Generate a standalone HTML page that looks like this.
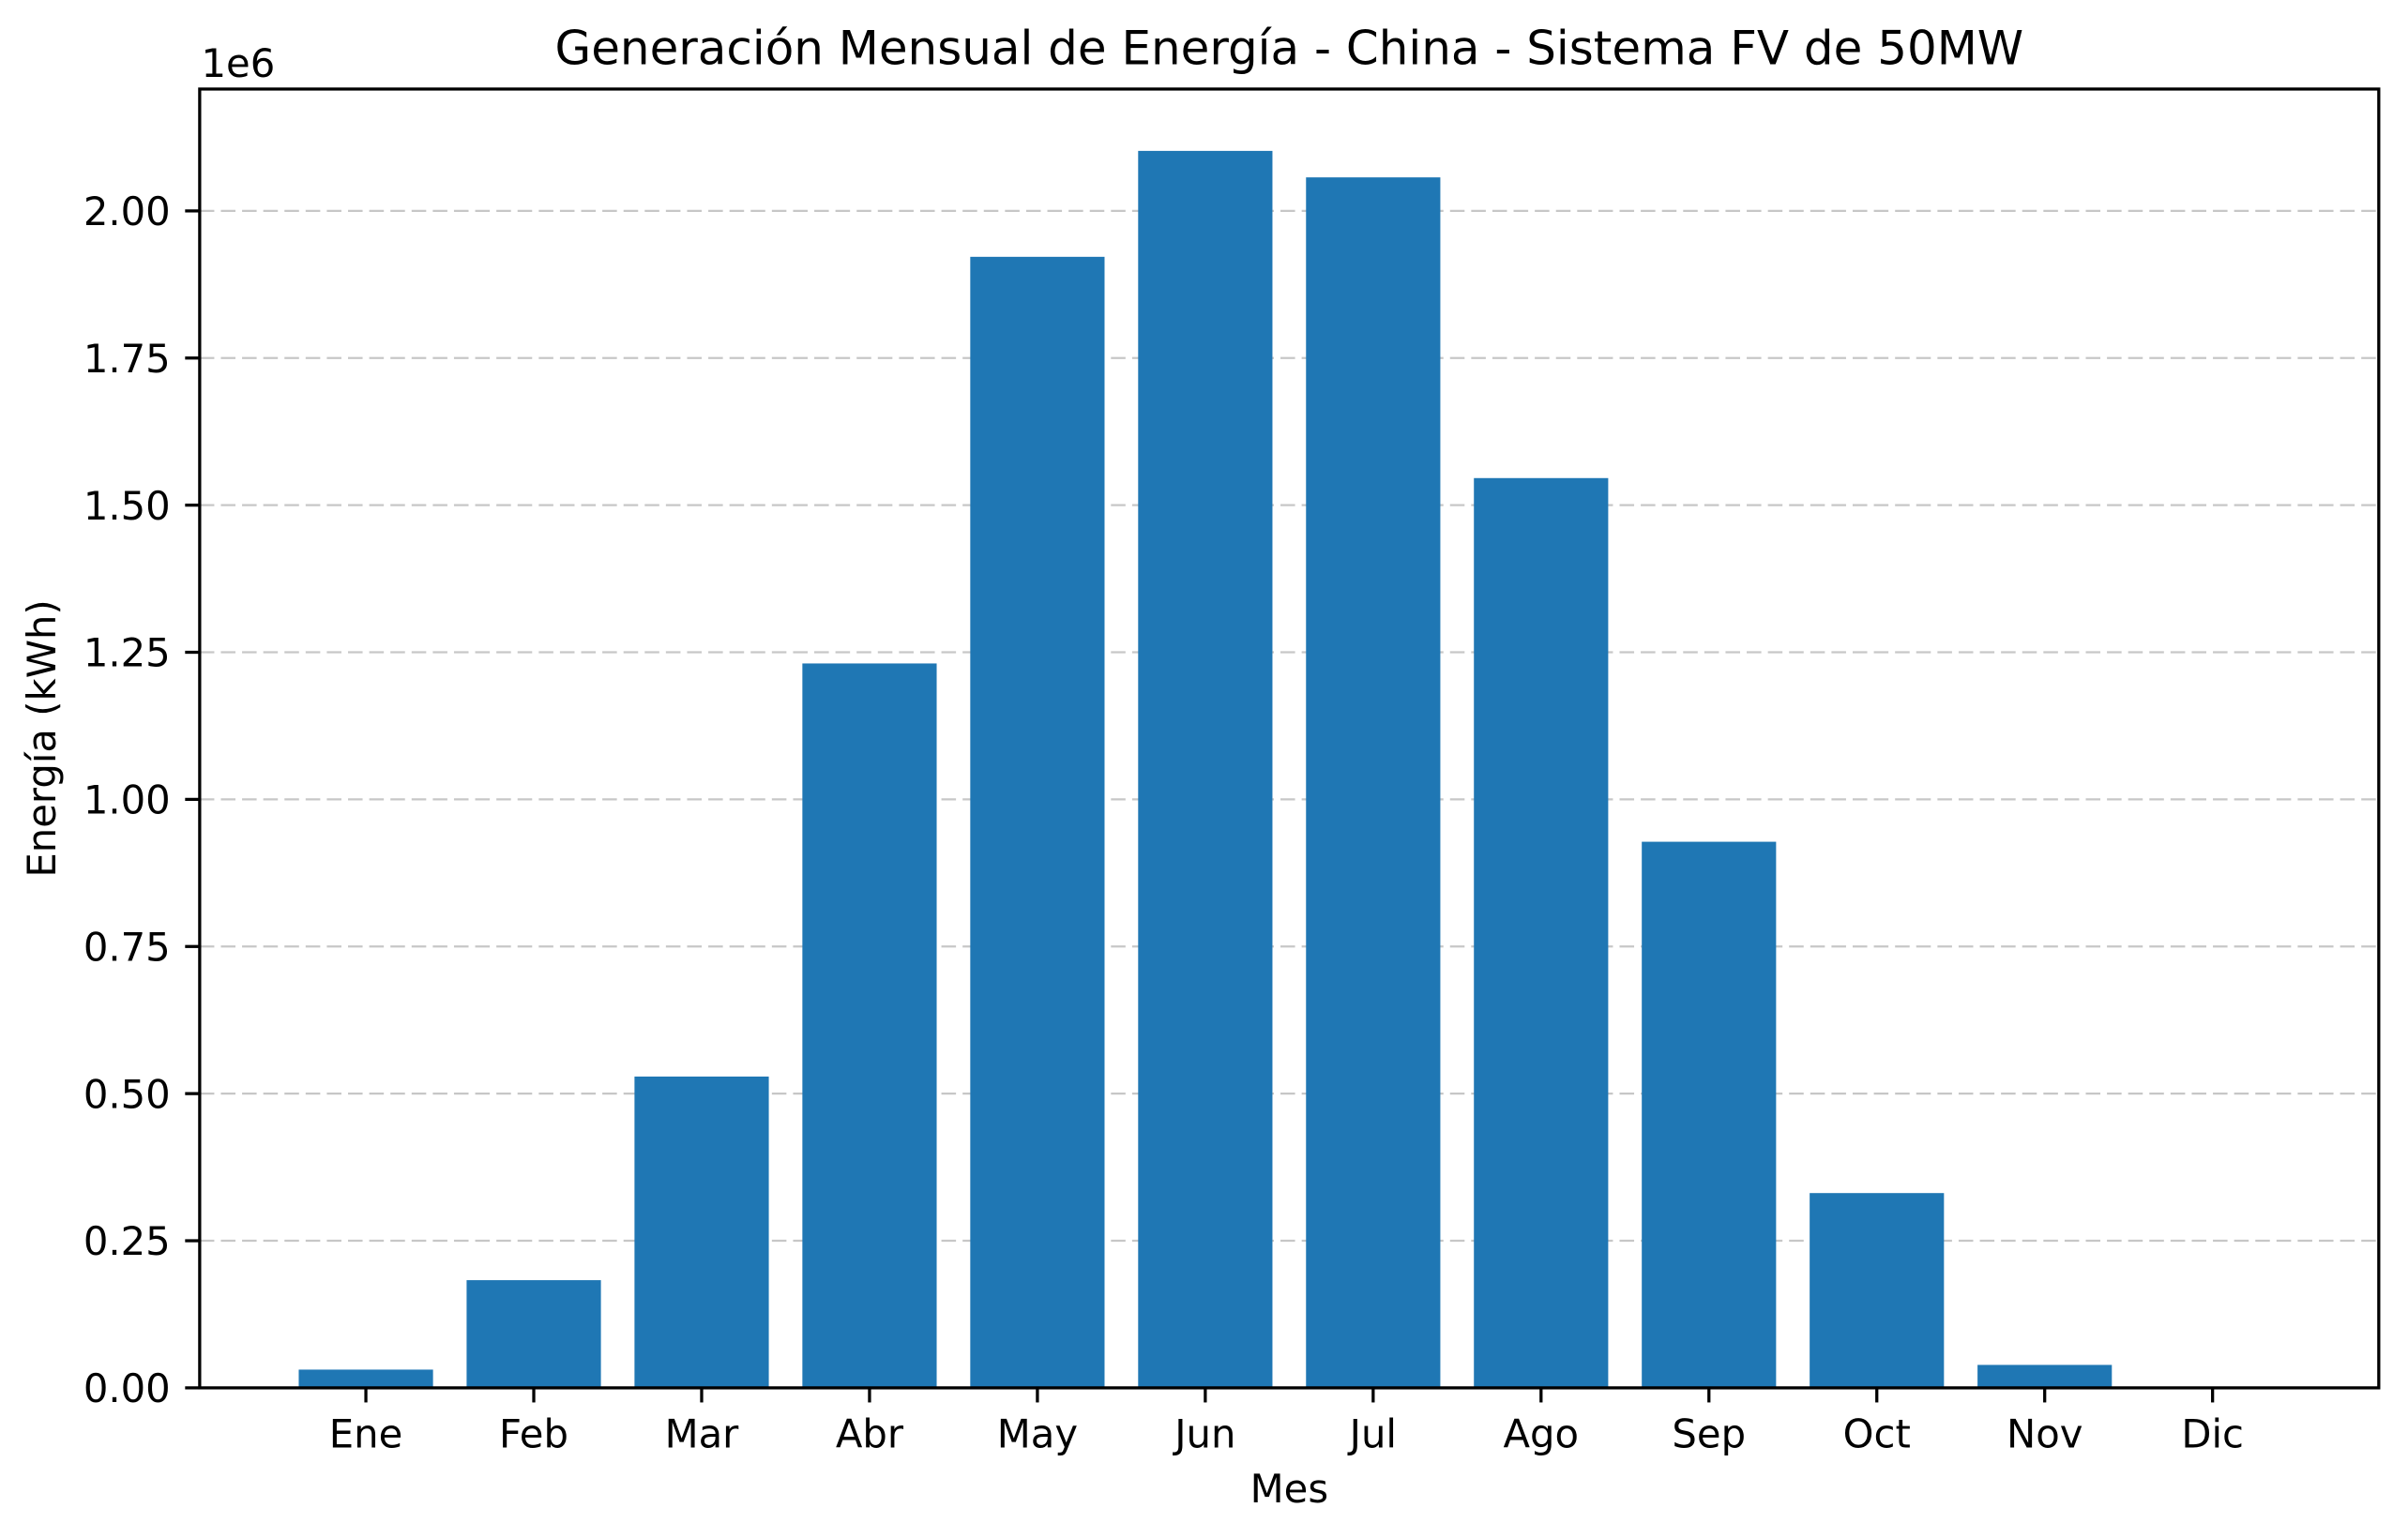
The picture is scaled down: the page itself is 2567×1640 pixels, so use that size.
<!DOCTYPE html>
<html><head><meta charset="utf-8"><style>html,body{margin:0;padding:0;background:#fff}svg{display:block}</style></head>
<body>
<svg id="chart" width="2567" height="1640" viewBox="0 0 1568 1001.8" xmlns="http://www.w3.org/2000/svg" font-family="'DejaVu Sans','Liberation Sans',sans-serif">
<rect width="1568" height="1001.8" fill="#fff"/>
<g id="grid"></g>
<g id="bars"></g>
<g id="axes"></g>
<text x="839.5" y="42" text-anchor="middle" font-size="30.5">Generación Mensual de Energía - China - Sistema FV de 50MW</text>
<text x="839.5" y="978.5" text-anchor="middle" font-size="25.5">Mes</text>
<text transform="translate(36,481) rotate(-90)" text-anchor="middle" font-size="25.5">Energía (kWh)</text>
<text x="131" y="50" font-size="25.5">1e6</text>
</svg>
<script>
const months = ["Ene","Feb","Mar","Abr","May","Jun","Jul","Ago","Sep","Oct","Nov","Dic"];
const energy = [0.031,0.183,0.529,1.231,1.922,2.102,2.057,1.546,0.928,0.331,0.039,0.0];
const yTicks = [0,0.25,0.5,0.75,1.0,1.25,1.5,1.75,2.0];
const yTickLabels = ["0.00","0.25","0.50","0.75","1.00","1.25","1.50","1.75","2.00"];

const L=130,R=1549,T=58,B=904;
const xmin=-0.99,xmax=11.99,ymax=Math.max(...energy)*1.05;
const x=v=>L+(v-xmin)/(xmax-xmin)*(R-L);
const y=v=>B-v/ymax*(B-T);
const NS="http://www.w3.org/2000/svg";
function mk(tag,attrs,parent){const e=document.createElementNS(NS,tag);for(const k in attrs)e.setAttribute(k,attrs[k]);document.getElementById(parent).appendChild(e);return e;}
yTicks.forEach((t,i)=>{
  if(t>0){const g=mk("line",{x1:L,x2:R,y1:y(t),y2:y(t),stroke:"#b0b0b0","stroke-width":1.4,"stroke-dasharray":"9.5,4.3",opacity:0.7},"grid");
  
  }
  const tk=mk("line",{x1:L-9.5,x2:L,y1:y(t),y2:y(t),stroke:"#000","stroke-width":2},"axes");
  
  
  const lb=mk("text",{x:L-19,y:y(t)+9.3,"text-anchor":"end","font-size":25.5},"axes");
  lb.textContent=yTickLabels[i];
  
  
});
const bw=0.8*(x(1)-x(0));
months.forEach((m,i)=>{
  const r=mk("rect",{x:x(i)-bw/2,y:y(energy[i]),width:bw,height:B-y(energy[i]),fill:"#1f77b4"},"bars");
  
  
  const tk=mk("line",{x1:x(i),x2:x(i),y1:B,y2:B+9.5,stroke:"#000","stroke-width":2},"axes");
  
  
  const lb=mk("text",{x:x(i),y:943,"text-anchor":"middle","font-size":25.5},"axes");
  lb.textContent=m;
  
  
});
const fr=mk("rect",{x:L,y:T,width:R-L,height:B-T,fill:"none",stroke:"#000","stroke-width":2},"axes");


</script>
</body></html>
